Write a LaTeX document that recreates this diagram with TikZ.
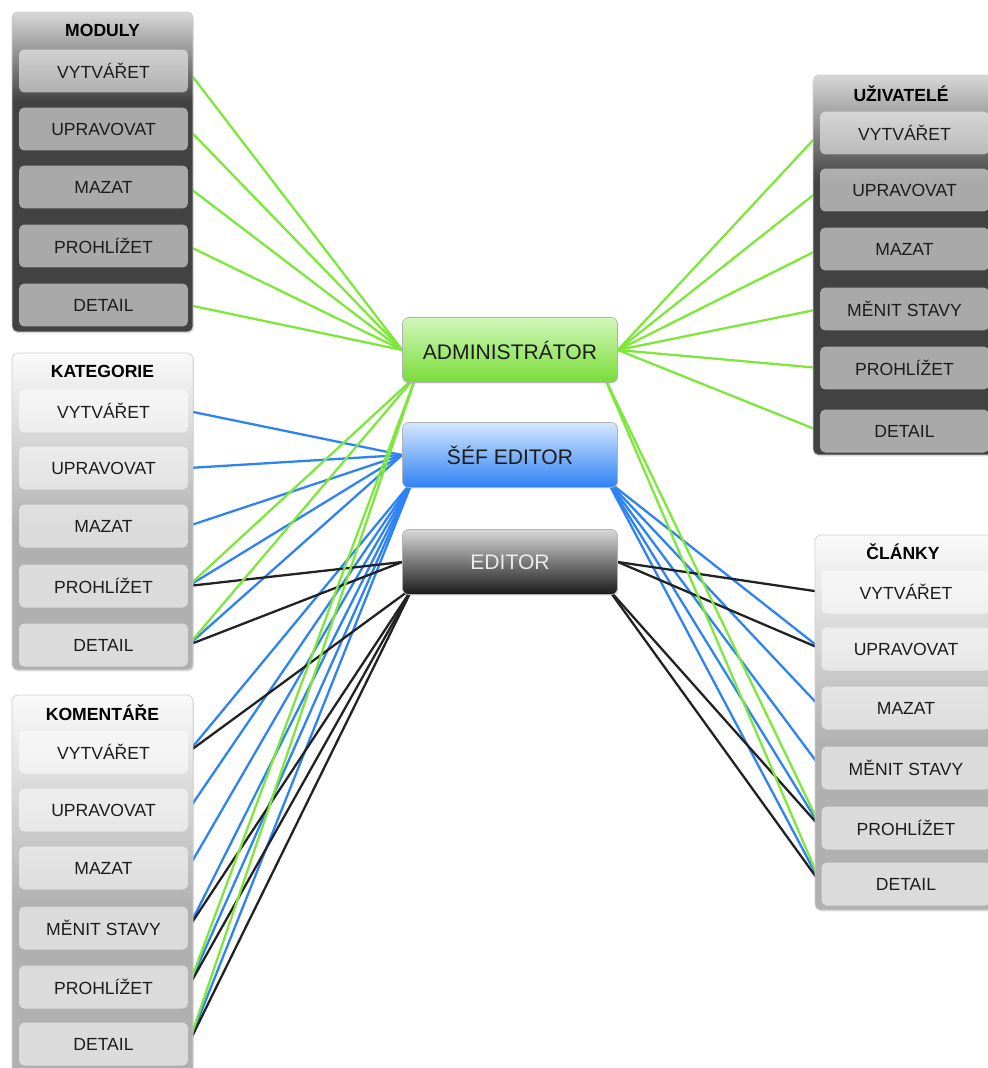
\documentclass[tikz,border=0pt]{standalone}
\usepackage{fontspec}
\setmainfont{Liberation Sans}
\usetikzlibrary{backgrounds, shadows}
\usepackage{xcolor}
\definecolor{zelena}{RGB}{126, 232, 58}
\definecolor{modra}{RGB}{45, 130, 245}
\definecolor{cerna}{RGB}{34, 34, 34}
\definecolor{tmavaseda}{RGB}{66, 66, 66}
\definecolor{svetlaseda}{RGB}{216, 216, 216}
\definecolor{skupseda}{RGB}{176, 176, 176}
\definecolor{skupbila}{RGB}{250, 250, 250}
\definecolor{okraj}{RGB}{178, 178, 178}
\definecolor{pismo}{RGB}{28, 28, 28}

\pgfdeclareverticalshading{tmavyblok}{100bp}{color(0bp)=(tmavaseda); color(61bp)=(tmavaseda); color(75bp)=(svetlaseda); color(100bp)=(svetlaseda)}
\pgfdeclareverticalshading{svetlyblok}{100bp}{color(0bp)=(skupseda); color(47bp)=(skupseda); color(75bp)=(skupbila); color(100bp)=(skupbila)}

\begin{document}
\begin{tikzpicture}[
    x=0.02cm, y=-0.02cm,
    every node/.style={font=\fontsize{10}{12}\selectfont, text=pismo},
    skupina/.style={rectangle, rounded corners=3pt, minimum width=3.62cm, inner sep=0pt,
        draw=okraj!60, drop shadow={opacity=0.25, shadow xshift=0.5pt, shadow yshift=-0.8pt}},
    skupinatmava/.style={skupina, shading=tmavyblok},
    skupinasvetla/.style={skupina, shading=svetlyblok},
    nadpis/.style={font=\fontsize{10}{12}\selectfont\bfseries, text=black},
    polozka/.style={rectangle, rounded corners=3pt, minimum width=3.38cm, minimum height=0.86cm,
        inner sep=0pt, fill=white, fill opacity=0.55, text opacity=1},
    role/.style={rectangle, rounded corners=3.5pt, draw=okraj, minimum width=4.3cm,
        minimum height=1.3cm, font=\fontsize{12}{14}\selectfont,
        drop shadow={opacity=0.2, shadow xshift=0.4pt, shadow yshift=-0.6pt}},
    spoj/.style={line width=1.3pt}
]

\useasboundingbox (0,0) rectangle (987,1068);

% ------------------------------------------------
% Moduly
% ------------------------------------------------

\node[skupinatmava, minimum height=6.4cm] (moduly) at (102.5,172) {};
\node[nadpis] (modulyT) at (102.5,30) {MODULY};
\node[polozka] (mod1) at (103.5,71) {VYTVÁŘET};
\node[polozka] (mod2) at (103.5,129) {UPRAVOVAT};
\node[polozka] (mod3) at (103.5,187) {MAZAT};
\node[polozka] (mod4) at (103.5,246) {PROHLÍŽET};
\node[polozka] (mod5) at (103.5,305) {DETAIL};

% ------------------------------------------------
% Kategorie
% ------------------------------------------------

\node[skupinasvetla, minimum height=6.34cm] (kategorie) at (102.5,511.5) {};
\node[nadpis] (kategorieT) at (102.5,371) {KATEGORIE};
\node[polozka] (kat1) at (103.5,411) {VYTVÁŘET};
\node[polozka] (kat2) at (103.5,468) {UPRAVOVAT};
\node[polozka] (kat3) at (103.5,526) {MAZAT};
\node[polozka] (kat4) at (103.5,586) {PROHLÍŽET};
\node[polozka] (kat5) at (103.5,645) {DETAIL};

% ------------------------------------------------
% Komentáře
% ------------------------------------------------

\node[skupinasvetla, minimum height=7.6cm] (komentare) at (102.5,885) {};
\node[nadpis] (komentareT) at (102.5,713) {KOMENTÁŘE};
\node[polozka] (kom1) at (103.5,752) {VYTVÁŘET};
\node[polozka] (kom2) at (103.5,810) {UPRAVOVAT};
\node[polozka] (kom3) at (103.5,868) {MAZAT};
\node[polozka] (kom4) at (103.5,928) {MĚNIT STAVY};
\node[polozka] (kom5) at (103.5,987) {PROHLÍŽET};
\node[polozka] (kom6) at (103.5,1044) {DETAIL};

% ------------------------------------------------
% Uživatelé
% ------------------------------------------------

\node[skupinatmava, minimum height=7.6cm] (uzivatele) at (903.5,265) {};
\node[nadpis] (uzivateleT) at (901,94) {UŽIVATELÉ};
\node[polozka] (uziv1) at (904.5,133) {VYTVÁŘET};
\node[polozka] (uziv2) at (904.5,190) {UPRAVOVAT};
\node[polozka] (uziv3) at (904.5,249) {MAZAT};
\node[polozka] (uziv4) at (904.5,309) {MĚNIT STAVY};
\node[polozka] (uziv5) at (904.5,368) {PROHLÍŽET};
\node[polozka] (uziv6) at (904.5,431) {DETAIL};

% ------------------------------------------------
% Články
% ------------------------------------------------

\node[skupinasvetla, minimum height=7.5cm] (clanky) at (905.5,722.5) {};
\node[nadpis] (clankyT) at (903,552) {ČLÁNKY};
\node[polozka] (cl1) at (906,592) {VYTVÁŘET};
\node[polozka] (cl2) at (906,649) {UPRAVOVAT};
\node[polozka] (cl3) at (906,708) {MAZAT};
\node[polozka] (cl4) at (906,768) {MĚNIT STAVY};
\node[polozka] (cl5) at (906,828) {PROHLÍŽET};
\node[polozka] (cl6) at (906,884) {DETAIL};

% ------------------------------------------------
% Role
% ------------------------------------------------

\node[role, top color=zelena!35, bottom color=zelena!95!black] (admin) at (510,350) {ADMINISTRÁTOR};
\node[role, top color=modra!20, bottom color=modra] (sef) at (510,455) {ŠÉF EDITOR};
\node[role, top color=black!15, bottom color=black!90, text=black!8] (editor) at (510,562) {EDITOR};

% ------------------------------------------------
% Spoje
% ------------------------------------------------

\begin{scope}[on background layer]
\fill[white] (0,0) rectangle (987,1068);

% sef editor
\draw[spoj, modra] (sef.west) -- (kat1.east);
\draw[spoj, modra] (sef.west) -- (kat2.east);
\draw[spoj, modra] (sef.west) -- (kat3.east);
\draw[spoj, modra] (sef.west) -- (kat4.east);
\draw[spoj, modra] (sef.west) -- (kat5.east);
\draw[spoj, modra] ([xshift=6pt,yshift=4pt]sef.south west) -- (kom1.east);
\draw[spoj, modra] ([xshift=6pt,yshift=4pt]sef.south west) -- (kom2.east);
\draw[spoj, modra] ([xshift=6pt,yshift=4pt]sef.south west) -- (kom3.east);
\draw[spoj, modra] ([xshift=6pt,yshift=4pt]sef.south west) -- (kom4.east);
\draw[spoj, modra] ([xshift=6pt,yshift=4pt]sef.south west) -- (kom5.east);
\draw[spoj, modra] ([xshift=6pt,yshift=4pt]sef.south west) -- (kom6.east);
\draw[spoj, modra] ([xshift=-6pt,yshift=4pt]sef.south east) -- (cl2.west);
\draw[spoj, modra] ([xshift=-6pt,yshift=4pt]sef.south east) -- (cl3.west);
\draw[spoj, modra] ([xshift=-6pt,yshift=4pt]sef.south east) -- (cl4.west);
\draw[spoj, modra] ([xshift=-6pt,yshift=4pt]sef.south east) -- (cl5.west);
\draw[spoj, modra] ([xshift=-6pt,yshift=4pt]sef.south east) -- (cl6.west);

% editor
\draw[spoj, cerna] (editor.west) -- (kat4.east);
\draw[spoj, cerna] (editor.west) -- (kat5.east);
\draw[spoj, cerna] ([xshift=6pt,yshift=4pt]editor.south west) -- (kom1.east);
\draw[spoj, cerna] ([xshift=6pt,yshift=4pt]editor.south west) -- (kom4.east);
\draw[spoj, cerna] ([xshift=6pt,yshift=4pt]editor.south west) -- (kom5.east);
\draw[spoj, cerna] ([xshift=6pt,yshift=4pt]editor.south west) -- (kom6.east);
\draw[spoj, cerna] (editor.east) -- (cl1.west);
\draw[spoj, cerna] (editor.east) -- (cl2.west);
\draw[spoj, cerna] ([xshift=-6pt,yshift=4pt]editor.south east) -- (cl5.west);
\draw[spoj, cerna] ([xshift=-6pt,yshift=4pt]editor.south east) -- (cl6.west);

% administrator
\draw[spoj, zelena] (admin.west) -- (mod1.east);
\draw[spoj, zelena] (admin.west) -- (mod2.east);
\draw[spoj, zelena] (admin.west) -- (mod3.east);
\draw[spoj, zelena] (admin.west) -- (mod4.east);
\draw[spoj, zelena] (admin.west) -- (mod5.east);
\draw[spoj, zelena] (admin.east) -- (uziv1.west);
\draw[spoj, zelena] (admin.east) -- (uziv2.west);
\draw[spoj, zelena] (admin.east) -- (uziv3.west);
\draw[spoj, zelena] (admin.east) -- (uziv4.west);
\draw[spoj, zelena] (admin.east) -- (uziv5.west);
\draw[spoj, zelena] (admin.east) -- (uziv6.west);
\draw[spoj, zelena] ([xshift=8pt,yshift=4pt]admin.south west) -- (kat4.east);
\draw[spoj, zelena] ([xshift=8pt,yshift=4pt]admin.south west) -- (kat5.east);
\draw[spoj, zelena] ([xshift=8pt,yshift=4pt]admin.south west) -- (kom5.east);
\draw[spoj, zelena] ([xshift=8pt,yshift=4pt]admin.south west) -- (kom6.east);
\draw[spoj, zelena] ([xshift=-8pt,yshift=4pt]admin.south east) -- (cl5.west);
\draw[spoj, zelena] ([xshift=-8pt,yshift=4pt]admin.south east) -- (cl6.west);
\end{scope}

\end{tikzpicture}
\end{document}
